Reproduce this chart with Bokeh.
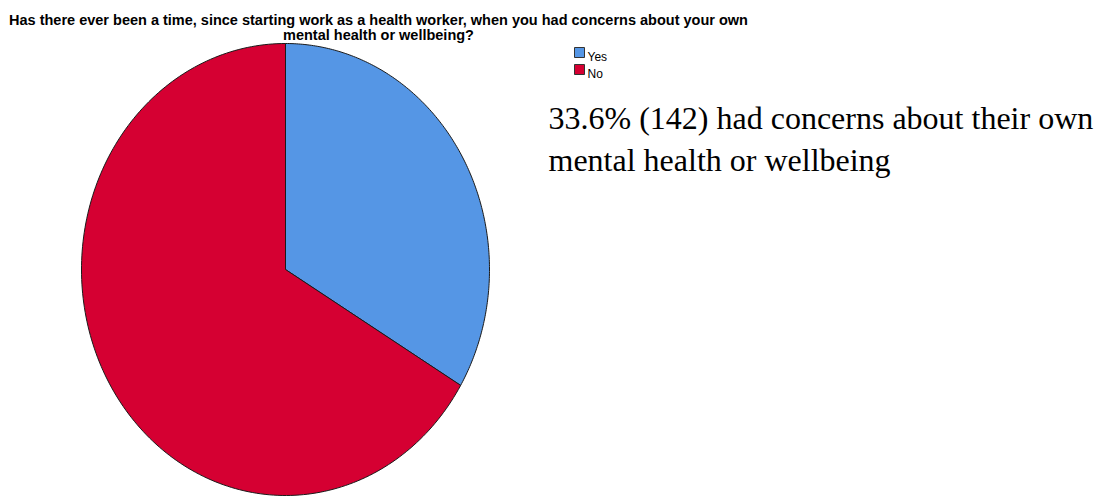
import numpy as np
from bokeh.plotting import figure
from bokeh.models import Range1d
from bokeh.core.properties import value
from bokeh.embed import file_html
from bokeh.resources import INLINE

# ---- data ----
categories = ["Yes", "No"]
counts = [142, 281]
colors = ["#5596E5", "#D50032"]
title_lines = ["Has there ever been a time, since starting work as a health worker, when you had concerns about your own",
               "mental health or wellbeing?"]
note_lines = ["33.6% (142) had concerns about their own", "mental health or wellbeing"]

W, H = 1098, 498
p = figure(width=W, height=H, output_backend="svg", toolbar_location=None,
           x_range=Range1d(0, W), y_range=Range1d(H, 0), min_border=0)
p.axis.visible = False
p.grid.visible = False
p.outline_line_color = None
p.background_fill_color = "white"

# pie (elliptical) centre and radii in screen-like units
cx, cy, rx, ry = 285, 269, 204, 226
total = float(sum(counts))
start = 0.0
xs, ys = [], []
for c in counts:
    frac = c / total
    t = np.linspace(start, start + frac, 200) * 2 * np.pi  # clockwise from top
    px = cx + rx * np.sin(t)
    py = cy - ry * np.cos(t)
    xs.append([cx] + list(px) + [cx])
    ys.append([cy] + list(py) + [cy])
    start += frac
p.patches(xs, ys, fill_color=colors, line_color="#1a1a1a", line_width=1)

# title
p.text(x=[378, 378], y=[19, 34], text=title_lines, text_align="center", text_baseline="alphabetic",
       text_font=value("Liberation Sans"), text_font_size="14.5px", text_font_style="bold",
       text_color="#000000")

# legend
lx = [579, 579]
ly = [52, 69]
p.rect(x=lx, y=ly, width=10, height=10, fill_color=colors, line_color="#333333", line_width=1)
p.text(x=[587, 587], y=[56, 73], text=categories, text_align="left", text_baseline="alphabetic",
       text_font=value("Liberation Sans"), text_font_size="12px", text_color="#000000")

# note text
p.text(x=[548, 548], y=[117, 159], text=note_lines, text_align="left", text_baseline="alphabetic",
       text_font=value("Liberation Serif"), text_font_size="32px", text_color="#000000")

open("out.html", "w").write(file_html(p, INLINE))
